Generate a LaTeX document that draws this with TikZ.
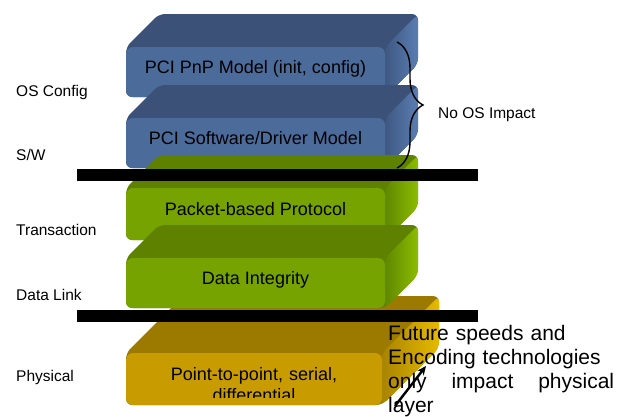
\documentclass[tikz,border=0pt]{standalone}
\usepackage{fontspec}
\setmainfont{Liberation Sans}
\usetikzlibrary{decorations.pathreplacing,arrows.meta}
\definecolor{bluefront}{HTML}{4B6B9B}
\definecolor{bluetop}{HTML}{3B5178}
\definecolor{bluesideA}{HTML}{3E5882}
\definecolor{bluesideB}{HTML}{5A7DB1}
\definecolor{greenfront}{HTML}{76A300}
\definecolor{greentop}{HTML}{5E8200}
\definecolor{greensideA}{HTML}{5F8800}
\definecolor{greensideB}{HTML}{8CBC00}
\definecolor{yellowfront}{HTML}{C89C00}
\definecolor{yellowtop}{HTML}{9C7A00}
\definecolor{yellowsideA}{HTML}{A88400}
\definecolor{yellowsideB}{HTML}{E6BA00}
\tikzset{
  frontface/.style={rounded corners=7pt, inner sep=0pt, align=center,
    font=\fontsize{18}{21}\selectfont},
  raisedtext/.style={text height=13pt, text depth=11pt},
  sidelabel/.style={anchor=west, inner sep=0pt, font=\fontsize{15.5}{18}\selectfont},
  barline/.style={fill=black},
  bracestyle/.style={decorate, decoration={brace, amplitude=26pt}, line width=1.4pt},
  arrowstyle/.style={line width=2.4pt, -{Stealth[length=9pt,width=8pt]}}
}
% #1 name, #2 x0, #3 ytop, #4 w, #5 h, #6 d, #7 colour prefix, #8 text
\newcommand{\layerblock}[8]{%
  \fill[#7top, rounded corners=6pt] (#2,#3+#5) -- (#2,#3) -- (#2+#6,#3-#6)
     -- (#2+#4+#6,#3-#6) -- (#2+#4+#6,#3+#5-#6) -- (#2+#4,#3+#5) -- cycle;
  \shade[left color=#7sideA, right color=#7sideB, rounded corners=6pt]
     (#2+#4,#3) -- (#2+#4+#6,#3-#6) -- (#2+#4+#6,#3+#5-#6) -- (#2+#4,#3+#5) -- cycle;
  \node[frontface, raisedtext, fill=#7front, minimum width=#4pt, minimum height=#5pt]
     (#1) at (#2+#4/2,#3+#5/2) {#8};
}
\begin{document}
\begin{tikzpicture}[x=1pt,y=-1pt]
\useasboundingbox (0,0) rectangle (630,416);
% small dark arc behind the physical layer
\draw[line width=2.2pt] (147,339) .. controls (140,341) .. (137,352);
% layers
\layerblock{phys}{126}{353}{256}{52}{57}{yellow}{}
\begin{scope}
  \clip (126,353) rectangle (382,397);
  \node[frontface, fill=none, text width=250pt, anchor=north] (phystext) at (254,367)
    {Point-to-point, serial,\\differential};
\end{scope}
\layerblock{pnp}{126}{47}{259}{50}{33}{blue}{PCI PnP Model (init, config)}
\layerblock{swdrv}{126}{118}{259}{50}{33}{blue}{PCI Software/Driver Model}
\layerblock{packet}{126}{188}{259}{52}{33}{green}{Packet-based Protocol}
\layerblock{integ}{126}{258}{259}{50}{33}{green}{Data Integrity}
% separator bars
\fill[barline] (77,169) rectangle (478,181);
\fill[barline] (77,310) rectangle (478,322);
% left labels
\node[sidelabel] (osc) at (16,92) {OS Config};
\node[sidelabel] (sw) at (16,155) {S/W};
\node[sidelabel] (trans) at (16,230) {Transaction};
\node[sidelabel] (dlink) at (16,295) {Data Link};
\node[sidelabel] (physl) at (16,377) {Physical};
% brace
\coordinate (bt) at (397,42);
\coordinate (bb) at (397,168);
\draw[bracestyle] (bt) -- (bb);
\node[sidelabel] (noos) at (438,115) {No OS Impact};
% future note
\node[anchor=north west, inner sep=0pt, text width=226pt, align=left,
      font=\fontsize{21}{24}\selectfont] (future) at (388,325.5)
  {Future speeds and\\Encoding technologies\\\leavevmode\hbox to 226pt{only\hfill impact\hfill physical}\\layer};
\coordinate (atail) at (395,406);
\coordinate (ahead) at (426,366);
\draw[arrowstyle] (atail) -- (ahead);
\end{tikzpicture}
\end{document}
